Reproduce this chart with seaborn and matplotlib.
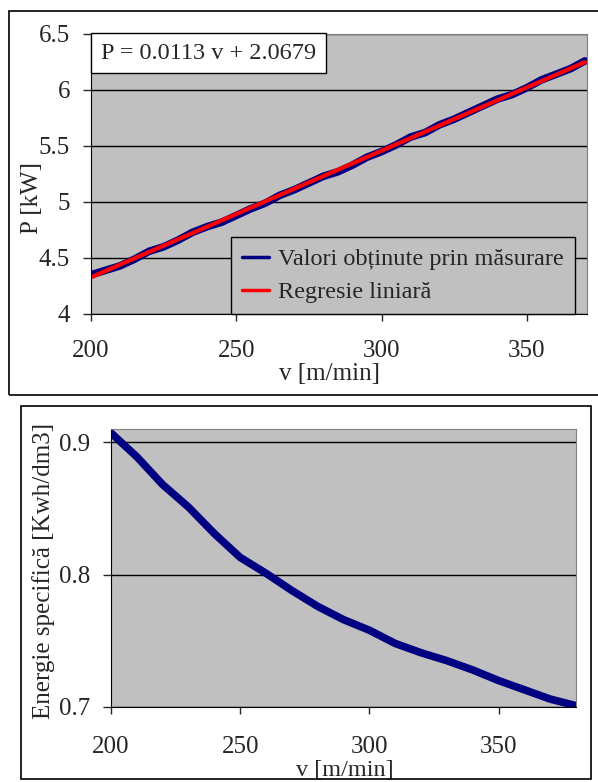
import numpy as np
import pandas as pd
import matplotlib.pyplot as plt
import seaborn as sns
from matplotlib.patches import Rectangle

# viteza de aschiere [m/min] si puterea masurata [kW]
v_p = [200, 205, 210, 215, 220, 225, 230, 235, 240, 245, 250, 255, 260, 265, 270, 275, 280, 285,
       290, 295, 300, 305, 310, 315, 320, 325, 330, 335, 340, 345, 350, 355, 360, 365, 370]
p_meas = [4.35, 4.39, 4.43, 4.49, 4.56, 4.60, 4.66, 4.73, 4.78, 4.82, 4.88, 4.94, 4.99, 5.06,
          5.11, 5.17, 5.23, 5.27, 5.33, 5.40, 5.45, 5.51, 5.58, 5.62, 5.69, 5.74, 5.80, 5.86,
          5.92, 5.96, 6.02, 6.09, 6.14, 6.19, 6.26]
slope = 0.0113
intercept = 2.0679

# energie specifica [Kwh/dm3]
v_e = [200, 210, 220, 230, 240, 250, 260, 270, 280, 290, 300, 310, 320, 330, 340, 350, 360, 370, 380]
e_spec = [0.907, 0.889, 0.868, 0.851, 0.831, 0.813, 0.801, 0.788, 0.776, 0.766, 0.758, 0.748,
          0.741, 0.735, 0.728, 0.720, 0.713, 0.706, 0.701]

df_p = pd.DataFrame({'v': v_p, 'P': p_meas})
df_p['fit'] = slope * df_p['v'] + intercept
df_e = pd.DataFrame({'v': v_e, 'E': e_spec})

sns.set_style('ticks', {'axes.facecolor': '#C0C0C0'})
plt.rcParams['font.family'] = ['Liberation Serif', 'DejaVu Serif']
plt.rcParams['font.size'] = 18

W, H = 598, 782
fig = plt.figure(figsize=(W / 100, H / 100), dpi=100)

# chenare in jurul celor doua grafice
fig.patches.append(Rectangle((9 / W, 1 - 395 / H), 600 / W, 384 / H, transform=fig.transFigure,
                             fill=False, ec='black', lw=1.2))
fig.patches.append(Rectangle((21 / W, 1 - 779 / H), 570 / W, 373 / H, transform=fig.transFigure,
                             fill=False, ec='black', lw=1.2))

ax1 = fig.add_axes([91 / W, 1 - 314 / H, 496 / W, 280 / H])
ax2 = fig.add_axes([111 / W, 1 - 707 / H, 465 / W, 278 / H])


def style(ax, xpad):
    for s in ['top', 'right']:
        ax.spines[s].set_color('#808080')
    for s in ['left', 'bottom']:
        ax.spines[s].set_color('black')
    ax.grid(axis='y', color='black', lw=1)
    ax.set_axisbelow(True)
    ax.tick_params(axis='y', direction='out', length=6, width=1, pad=9, labelsize=18)
    ax.tick_params(axis='x', direction='out', length=5, width=1, pad=xpad, labelsize=18)


sns.lineplot(data=df_p, x='v', y='P', ax=ax1, color='#000080', lw=5.5,
             label='Valori obținute prin măsurare')
sns.lineplot(data=df_p, x='v', y='fit', ax=ax1, color='#FF0000', lw=3,
             label='Regresie liniară')
style(ax1, 14)
ax1.set_xlim(200, 370.7)
ax1.set_ylim(4, 6.5)
ax1.set_xticks([200, 250, 300, 350])
ax1.set_yticks([4, 4.5, 5, 5.5, 6, 6.5])
ax1.set_yticklabels(['4', '4.5', '5', '5.5', '6', '6.5'])
ax1.set_xlabel('v [m/min]', fontsize=18, va='top')
ax1.xaxis.set_label_coords(0.48, -0.176)
ax1.set_ylabel('P [kW]', fontsize=18, va='center')
ax1.yaxis.set_label_coords(-0.119, 0.414)
ax1.text(0.0206, 0.969, 'P = 0.0113 v + 2.0679', transform=ax1.transAxes, fontsize=17.5,
         ha='left', va='top',
         bbox=dict(boxstyle='square,pad=0.4', fc='white', ec='black', lw=1))
leg = ax1.legend(loc='lower right', bbox_to_anchor=(0.976, 0.0), fontsize=17.5, frameon=True,
                 fancybox=False, framealpha=1, edgecolor='black', borderaxespad=0,
                 handlelength=1.1, handletextpad=0.4, labelspacing=0.45, borderpad=0.45)
leg.get_frame().set_linewidth(1)
for ln in leg.get_lines():
    ln.set_linewidth(2.5)

sns.lineplot(data=df_e, x='v', y='E', ax=ax2, color='#000080', lw=5.5)
style(ax2, 16)
ax2.set_xlim(200, 380)
ax2.set_ylim(0.7, 0.91)
ax2.set_xticks([200, 250, 300, 350])
ax2.set_yticks([0.7, 0.8, 0.9])
ax2.set_xlabel('v [m/min]', fontsize=17.5, va='top')
ax2.xaxis.set_label_coords(0.503, -0.188)
ax2.set_ylabel('Energie specifică [Kwh/dm3]', fontsize=18, va='center')
ax2.yaxis.set_label_coords(-0.146, 0.49)

fig.savefig('out.png', dpi=100)
